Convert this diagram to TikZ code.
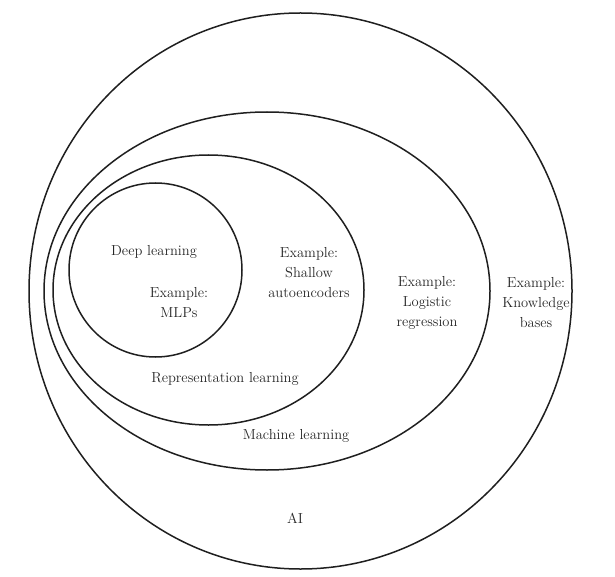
\documentclass[tikz,border=0pt]{standalone}
\usetikzlibrary{shapes.geometric}
\begin{document}
\begin{tikzpicture}[x=1pt,y=-1pt,
  ring/.style={draw=black!88,line width=1.5pt},
  lbl/.style={inner sep=0pt,align=center,text=black!85,font=\fontsize{14.5}{20}\selectfont},
]
\useasboundingbox (0,0) rectangle (615,577);
% sets
\draw[ring] (300.5,291) ellipse [x radius=271.5, y radius=278];
\draw[ring] (267,291) ellipse [x radius=223, y radius=179];
\draw[ring] (208.5,290) ellipse [x radius=155.5, y radius=135];
\draw[ring] (155.5,270) ellipse [x radius=86.5, y radius=87];
% labels
\node[lbl] (dl) at (154,252) {Deep learning};
\node[lbl] (mlp) at (179,303) {Example:\\MLPs};
\node[lbl] (rl) at (225,379) {Representation learning};
\node[lbl] (sae) at (309,273) {Example:\\Shallow\\autoencoders};
\node[lbl] (lr) at (427,303) {Example:\\Logistic\\regression};
\node[lbl] (kb) at (536,303) {Example:\\Knowledge\\bases};
\node[lbl] (ml) at (296,436) {Machine learning};
\node[lbl] (ai) at (295,518) {AI};
\end{tikzpicture}
\end{document}
